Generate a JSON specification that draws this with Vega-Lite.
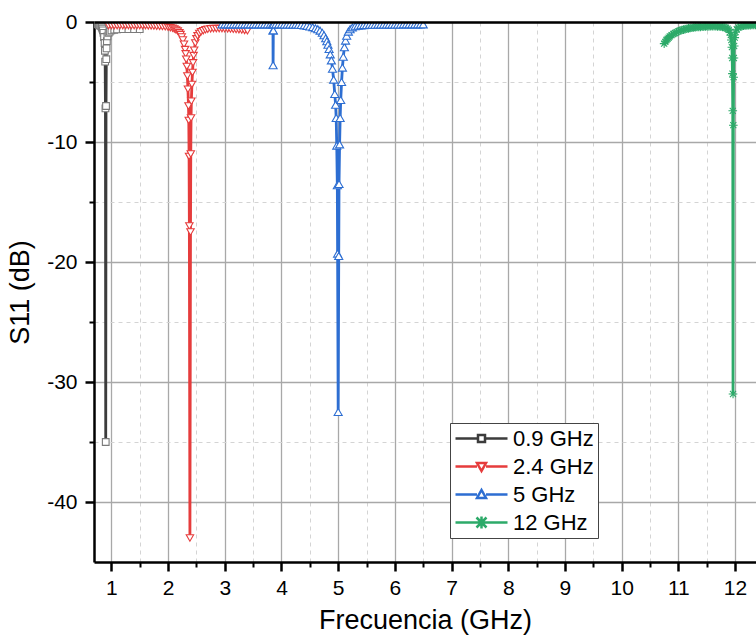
{
  "$schema": "https://vega.github.io/schema/vega-lite/v6.json",
  "width": 662,
  "height": 540,
  "autosize": {"type": "none"},
  "padding": {"left": 94, "top": 22, "right": 0, "bottom": 74},
  "background": "white",
  "config": {"view": {"stroke": null}, "font": "Liberation Sans"},
  "datasets": {
    "s11": [
      {"serie": "0.9 GHz", "freq": 0.76, "s11": -0.2},
      {"serie": "0.9 GHz", "freq": 0.78, "s11": -0.25},
      {"serie": "0.9 GHz", "freq": 0.80, "s11": -0.3},
      {"serie": "0.9 GHz", "freq": 0.82, "s11": -0.35},
      {"serie": "0.9 GHz", "freq": 0.83, "s11": -0.45},
      {"serie": "0.9 GHz", "freq": 0.84, "s11": -0.55},
      {"serie": "0.9 GHz", "freq": 0.85, "s11": -0.7},
      {"serie": "0.9 GHz", "freq": 0.86, "s11": -0.9},
      {"serie": "0.9 GHz", "freq": 0.87, "s11": -1.25},
      {"serie": "0.9 GHz", "freq": 0.88, "s11": -1.75},
      {"serie": "0.9 GHz", "freq": 0.885, "s11": -2.4},
      {"serie": "0.9 GHz", "freq": 0.89, "s11": -3.3},
      {"serie": "0.9 GHz", "freq": 0.895, "s11": -7.2},
      {"serie": "0.9 GHz", "freq": 0.9, "s11": -35},
      {"serie": "0.9 GHz", "freq": 0.905, "s11": -7.0},
      {"serie": "0.9 GHz", "freq": 0.91, "s11": -3.1},
      {"serie": "0.9 GHz", "freq": 0.915, "s11": -2.2},
      {"serie": "0.9 GHz", "freq": 0.92, "s11": -1.6},
      {"serie": "0.9 GHz", "freq": 0.93, "s11": -1.2},
      {"serie": "0.9 GHz", "freq": 0.95, "s11": -0.9},
      {"serie": "0.9 GHz", "freq": 0.97, "s11": -0.8},
      {"serie": "0.9 GHz", "freq": 1.0, "s11": -0.7},
      {"serie": "0.9 GHz", "freq": 1.05, "s11": -0.65},
      {"serie": "0.9 GHz", "freq": 1.1, "s11": -0.62},
      {"serie": "0.9 GHz", "freq": 1.2, "s11": -0.6},
      {"serie": "0.9 GHz", "freq": 1.3, "s11": -0.6},
      {"serie": "0.9 GHz", "freq": 1.4, "s11": -0.6},
      {"serie": "0.9 GHz", "freq": 1.5, "s11": -0.6},

      {"serie": "2.4 GHz", "freq": 0.95, "s11": -0.3},
      {"serie": "2.4 GHz", "freq": 1.0, "s11": -0.3},
      {"serie": "2.4 GHz", "freq": 1.05, "s11": -0.3},
      {"serie": "2.4 GHz", "freq": 1.1, "s11": -0.3},
      {"serie": "2.4 GHz", "freq": 1.15, "s11": -0.3},
      {"serie": "2.4 GHz", "freq": 1.2, "s11": -0.3},
      {"serie": "2.4 GHz", "freq": 1.25, "s11": -0.3},
      {"serie": "2.4 GHz", "freq": 1.3, "s11": -0.3},
      {"serie": "2.4 GHz", "freq": 1.35, "s11": -0.3},
      {"serie": "2.4 GHz", "freq": 1.4, "s11": -0.3},
      {"serie": "2.4 GHz", "freq": 1.45, "s11": -0.3},
      {"serie": "2.4 GHz", "freq": 1.5, "s11": -0.3},
      {"serie": "2.4 GHz", "freq": 1.55, "s11": -0.3},
      {"serie": "2.4 GHz", "freq": 1.6, "s11": -0.3},
      {"serie": "2.4 GHz", "freq": 1.65, "s11": -0.32},
      {"serie": "2.4 GHz", "freq": 1.7, "s11": -0.32},
      {"serie": "2.4 GHz", "freq": 1.75, "s11": -0.33},
      {"serie": "2.4 GHz", "freq": 1.8, "s11": -0.35},
      {"serie": "2.4 GHz", "freq": 1.85, "s11": -0.36},
      {"serie": "2.4 GHz", "freq": 1.9, "s11": -0.38},
      {"serie": "2.4 GHz", "freq": 1.95, "s11": -0.4},
      {"serie": "2.4 GHz", "freq": 2.0, "s11": -0.43},
      {"serie": "2.4 GHz", "freq": 2.04, "s11": -0.47},
      {"serie": "2.4 GHz", "freq": 2.08, "s11": -0.52},
      {"serie": "2.4 GHz", "freq": 2.11, "s11": -0.58},
      {"serie": "2.4 GHz", "freq": 2.14, "s11": -0.66},
      {"serie": "2.4 GHz", "freq": 2.17, "s11": -0.76},
      {"serie": "2.4 GHz", "freq": 2.2, "s11": -0.9},
      {"serie": "2.4 GHz", "freq": 2.22, "s11": -1.05},
      {"serie": "2.4 GHz", "freq": 2.24, "s11": -1.25},
      {"serie": "2.4 GHz", "freq": 2.26, "s11": -1.5},
      {"serie": "2.4 GHz", "freq": 2.28, "s11": -1.85},
      {"serie": "2.4 GHz", "freq": 2.3, "s11": -2.3},
      {"serie": "2.4 GHz", "freq": 2.31, "s11": -2.65},
      {"serie": "2.4 GHz", "freq": 2.32, "s11": -3.1},
      {"serie": "2.4 GHz", "freq": 2.33, "s11": -3.7},
      {"serie": "2.4 GHz", "freq": 2.34, "s11": -4.5},
      {"serie": "2.4 GHz", "freq": 2.35, "s11": -5.6},
      {"serie": "2.4 GHz", "freq": 2.36, "s11": -7.0},
      {"serie": "2.4 GHz", "freq": 2.365, "s11": -8.2},
      {"serie": "2.4 GHz", "freq": 2.37, "s11": -11.2},
      {"serie": "2.4 GHz", "freq": 2.375, "s11": -17},
      {"serie": "2.4 GHz", "freq": 2.385, "s11": -43},
      {"serie": "2.4 GHz", "freq": 2.395, "s11": -17.5},
      {"serie": "2.4 GHz", "freq": 2.4, "s11": -11},
      {"serie": "2.4 GHz", "freq": 2.405, "s11": -8},
      {"serie": "2.4 GHz", "freq": 2.41, "s11": -6.6},
      {"serie": "2.4 GHz", "freq": 2.42, "s11": -5.2},
      {"serie": "2.4 GHz", "freq": 2.43, "s11": -4.2},
      {"serie": "2.4 GHz", "freq": 2.44, "s11": -3.4},
      {"serie": "2.4 GHz", "freq": 2.45, "s11": -2.8},
      {"serie": "2.4 GHz", "freq": 2.46, "s11": -2.35},
      {"serie": "2.4 GHz", "freq": 2.48, "s11": -1.75},
      {"serie": "2.4 GHz", "freq": 2.5, "s11": -1.4},
      {"serie": "2.4 GHz", "freq": 2.52, "s11": -1.15},
      {"serie": "2.4 GHz", "freq": 2.55, "s11": -0.95},
      {"serie": "2.4 GHz", "freq": 2.58, "s11": -0.82},
      {"serie": "2.4 GHz", "freq": 2.62, "s11": -0.72},
      {"serie": "2.4 GHz", "freq": 2.66, "s11": -0.65},
      {"serie": "2.4 GHz", "freq": 2.7, "s11": -0.6},
      {"serie": "2.4 GHz", "freq": 2.75, "s11": -0.57},
      {"serie": "2.4 GHz", "freq": 2.8, "s11": -0.55},
      {"serie": "2.4 GHz", "freq": 2.85, "s11": -0.55},
      {"serie": "2.4 GHz", "freq": 2.9, "s11": -0.55},
      {"serie": "2.4 GHz", "freq": 2.95, "s11": -0.55},
      {"serie": "2.4 GHz", "freq": 3.0, "s11": -0.56},
      {"serie": "2.4 GHz", "freq": 3.05, "s11": -0.57},
      {"serie": "2.4 GHz", "freq": 3.1, "s11": -0.58},
      {"serie": "2.4 GHz", "freq": 3.15, "s11": -0.6},
      {"serie": "2.4 GHz", "freq": 3.2, "s11": -0.62},
      {"serie": "2.4 GHz", "freq": 3.25, "s11": -0.64},
      {"serie": "2.4 GHz", "freq": 3.3, "s11": -0.67},
      {"serie": "2.4 GHz", "freq": 3.35, "s11": -0.7},
      {"serie": "2.4 GHz", "freq": 3.4, "s11": -0.73},

      {"serie": "5 GHz", "freq": 2.95, "s11": -0.2},
      {"serie": "5 GHz", "freq": 3.0, "s11": -0.2},
      {"serie": "5 GHz", "freq": 3.05, "s11": -0.2},
      {"serie": "5 GHz", "freq": 3.1, "s11": -0.2},
      {"serie": "5 GHz", "freq": 3.15, "s11": -0.2},
      {"serie": "5 GHz", "freq": 3.2, "s11": -0.2},
      {"serie": "5 GHz", "freq": 3.25, "s11": -0.2},
      {"serie": "5 GHz", "freq": 3.3, "s11": -0.2},
      {"serie": "5 GHz", "freq": 3.35, "s11": -0.2},
      {"serie": "5 GHz", "freq": 3.4, "s11": -0.2},
      {"serie": "5 GHz", "freq": 3.45, "s11": -0.2},
      {"serie": "5 GHz", "freq": 3.5, "s11": -0.2},
      {"serie": "5 GHz", "freq": 3.55, "s11": -0.2},
      {"serie": "5 GHz", "freq": 3.6, "s11": -0.2},
      {"serie": "5 GHz", "freq": 3.65, "s11": -0.2},
      {"serie": "5 GHz", "freq": 3.7, "s11": -0.2},
      {"serie": "5 GHz", "freq": 3.75, "s11": -0.2},
      {"serie": "5 GHz", "freq": 3.8, "s11": -0.2},
      {"serie": "5 GHz", "freq": 3.84, "s11": -0.2},
      {"serie": "5 GHz", "freq": 3.85, "s11": -0.7},
      {"serie": "5 GHz", "freq": 3.852, "s11": -3.6},
      {"serie": "5 GHz", "freq": 3.856, "s11": -0.7},
      {"serie": "5 GHz", "freq": 3.86, "s11": -0.2},
      {"serie": "5 GHz", "freq": 3.9, "s11": -0.2},
      {"serie": "5 GHz", "freq": 3.95, "s11": -0.2},
      {"serie": "5 GHz", "freq": 4.0, "s11": -0.2},
      {"serie": "5 GHz", "freq": 4.05, "s11": -0.21},
      {"serie": "5 GHz", "freq": 4.1, "s11": -0.21},
      {"serie": "5 GHz", "freq": 4.15, "s11": -0.21},
      {"serie": "5 GHz", "freq": 4.2, "s11": -0.22},
      {"serie": "5 GHz", "freq": 4.25, "s11": -0.22},
      {"serie": "5 GHz", "freq": 4.3, "s11": -0.23},
      {"serie": "5 GHz", "freq": 4.35, "s11": -0.25},
      {"serie": "5 GHz", "freq": 4.4, "s11": -0.28},
      {"serie": "5 GHz", "freq": 4.45, "s11": -0.32},
      {"serie": "5 GHz", "freq": 4.5, "s11": -0.37},
      {"serie": "5 GHz", "freq": 4.55, "s11": -0.43},
      {"serie": "5 GHz", "freq": 4.6, "s11": -0.52},
      {"serie": "5 GHz", "freq": 4.64, "s11": -0.6},
      {"serie": "5 GHz", "freq": 4.68, "s11": -0.72},
      {"serie": "5 GHz", "freq": 4.72, "s11": -0.9},
      {"serie": "5 GHz", "freq": 4.75, "s11": -1.1},
      {"serie": "5 GHz", "freq": 4.78, "s11": -1.35},
      {"serie": "5 GHz", "freq": 4.8, "s11": -1.6},
      {"serie": "5 GHz", "freq": 4.82, "s11": -1.9},
      {"serie": "5 GHz", "freq": 4.84, "s11": -2.25},
      {"serie": "5 GHz", "freq": 4.86, "s11": -2.7},
      {"serie": "5 GHz", "freq": 4.88, "s11": -3.2},
      {"serie": "5 GHz", "freq": 4.9, "s11": -3.9},
      {"serie": "5 GHz", "freq": 4.92, "s11": -4.8},
      {"serie": "5 GHz", "freq": 4.94, "s11": -6.0},
      {"serie": "5 GHz", "freq": 4.955, "s11": -6.9},
      {"serie": "5 GHz", "freq": 4.965, "s11": -8.0},
      {"serie": "5 GHz", "freq": 4.975, "s11": -10.3},
      {"serie": "5 GHz", "freq": 4.985, "s11": -13.6},
      {"serie": "5 GHz", "freq": 4.99, "s11": -19.3},
      {"serie": "5 GHz", "freq": 5.0, "s11": -32.5},
      {"serie": "5 GHz", "freq": 5.01, "s11": -19.5},
      {"serie": "5 GHz", "freq": 5.015, "s11": -13.5},
      {"serie": "5 GHz", "freq": 5.025, "s11": -10.2},
      {"serie": "5 GHz", "freq": 5.035, "s11": -8.0},
      {"serie": "5 GHz", "freq": 5.045, "s11": -6.5},
      {"serie": "5 GHz", "freq": 5.06, "s11": -5.0},
      {"serie": "5 GHz", "freq": 5.075, "s11": -3.8},
      {"serie": "5 GHz", "freq": 5.09, "s11": -2.9},
      {"serie": "5 GHz", "freq": 5.11, "s11": -2.1},
      {"serie": "5 GHz", "freq": 5.13, "s11": -1.55},
      {"serie": "5 GHz", "freq": 5.15, "s11": -1.15},
      {"serie": "5 GHz", "freq": 5.18, "s11": -0.8},
      {"serie": "5 GHz", "freq": 5.21, "s11": -0.6},
      {"serie": "5 GHz", "freq": 5.25, "s11": -0.45},
      {"serie": "5 GHz", "freq": 5.3, "s11": -0.36},
      {"serie": "5 GHz", "freq": 5.35, "s11": -0.31},
      {"serie": "5 GHz", "freq": 5.4, "s11": -0.28},
      {"serie": "5 GHz", "freq": 5.45, "s11": -0.26},
      {"serie": "5 GHz", "freq": 5.5, "s11": -0.25},
      {"serie": "5 GHz", "freq": 5.55, "s11": -0.24},
      {"serie": "5 GHz", "freq": 5.6, "s11": -0.23},
      {"serie": "5 GHz", "freq": 5.65, "s11": -0.23},
      {"serie": "5 GHz", "freq": 5.7, "s11": -0.22},
      {"serie": "5 GHz", "freq": 5.75, "s11": -0.22},
      {"serie": "5 GHz", "freq": 5.8, "s11": -0.22},
      {"serie": "5 GHz", "freq": 5.85, "s11": -0.22},
      {"serie": "5 GHz", "freq": 5.9, "s11": -0.21},
      {"serie": "5 GHz", "freq": 5.95, "s11": -0.21},
      {"serie": "5 GHz", "freq": 6.0, "s11": -0.21},
      {"serie": "5 GHz", "freq": 6.05, "s11": -0.21},
      {"serie": "5 GHz", "freq": 6.1, "s11": -0.21},
      {"serie": "5 GHz", "freq": 6.15, "s11": -0.2},
      {"serie": "5 GHz", "freq": 6.2, "s11": -0.2},
      {"serie": "5 GHz", "freq": 6.25, "s11": -0.2},
      {"serie": "5 GHz", "freq": 6.3, "s11": -0.2},
      {"serie": "5 GHz", "freq": 6.35, "s11": -0.2},
      {"serie": "5 GHz", "freq": 6.4, "s11": -0.2},
      {"serie": "5 GHz", "freq": 6.45, "s11": -0.2},
      {"serie": "5 GHz", "freq": 6.5, "s11": -0.2},

      {"serie": "12 GHz", "freq": 10.75, "s11": -1.8},
      {"serie": "12 GHz", "freq": 10.77, "s11": -1.65},
      {"serie": "12 GHz", "freq": 10.79, "s11": -1.5},
      {"serie": "12 GHz", "freq": 10.81, "s11": -1.4},
      {"serie": "12 GHz", "freq": 10.83, "s11": -1.3},
      {"serie": "12 GHz", "freq": 10.85, "s11": -1.2},
      {"serie": "12 GHz", "freq": 10.88, "s11": -1.1},
      {"serie": "12 GHz", "freq": 10.91, "s11": -1.0},
      {"serie": "12 GHz", "freq": 10.94, "s11": -0.92},
      {"serie": "12 GHz", "freq": 10.97, "s11": -0.85},
      {"serie": "12 GHz", "freq": 11.0, "s11": -0.78},
      {"serie": "12 GHz", "freq": 11.03, "s11": -0.72},
      {"serie": "12 GHz", "freq": 11.06, "s11": -0.67},
      {"serie": "12 GHz", "freq": 11.09, "s11": -0.63},
      {"serie": "12 GHz", "freq": 11.12, "s11": -0.59},
      {"serie": "12 GHz", "freq": 11.15, "s11": -0.56},
      {"serie": "12 GHz", "freq": 11.18, "s11": -0.53},
      {"serie": "12 GHz", "freq": 11.21, "s11": -0.5},
      {"serie": "12 GHz", "freq": 11.24, "s11": -0.48},
      {"serie": "12 GHz", "freq": 11.27, "s11": -0.46},
      {"serie": "12 GHz", "freq": 11.3, "s11": -0.44},
      {"serie": "12 GHz", "freq": 11.33, "s11": -0.42},
      {"serie": "12 GHz", "freq": 11.36, "s11": -0.41},
      {"serie": "12 GHz", "freq": 11.39, "s11": -0.4},
      {"serie": "12 GHz", "freq": 11.42, "s11": -0.39},
      {"serie": "12 GHz", "freq": 11.45, "s11": -0.38},
      {"serie": "12 GHz", "freq": 11.48, "s11": -0.37},
      {"serie": "12 GHz", "freq": 11.51, "s11": -0.36},
      {"serie": "12 GHz", "freq": 11.54, "s11": -0.36},
      {"serie": "12 GHz", "freq": 11.57, "s11": -0.35},
      {"serie": "12 GHz", "freq": 11.6, "s11": -0.35},
      {"serie": "12 GHz", "freq": 11.63, "s11": -0.35},
      {"serie": "12 GHz", "freq": 11.66, "s11": -0.35},
      {"serie": "12 GHz", "freq": 11.69, "s11": -0.36},
      {"serie": "12 GHz", "freq": 11.72, "s11": -0.37},
      {"serie": "12 GHz", "freq": 11.75, "s11": -0.38},
      {"serie": "12 GHz", "freq": 11.78, "s11": -0.4},
      {"serie": "12 GHz", "freq": 11.81, "s11": -0.43},
      {"serie": "12 GHz", "freq": 11.84, "s11": -0.48},
      {"serie": "12 GHz", "freq": 11.87, "s11": -0.56},
      {"serie": "12 GHz", "freq": 11.89, "s11": -0.66},
      {"serie": "12 GHz", "freq": 11.91, "s11": -0.85},
      {"serie": "12 GHz", "freq": 11.925, "s11": -1.1},
      {"serie": "12 GHz", "freq": 11.935, "s11": -1.5},
      {"serie": "12 GHz", "freq": 11.945, "s11": -2.1},
      {"serie": "12 GHz", "freq": 11.95, "s11": -3.0},
      {"serie": "12 GHz", "freq": 11.955, "s11": -4.3},
      {"serie": "12 GHz", "freq": 11.96, "s11": -7.4},
      {"serie": "12 GHz", "freq": 11.965, "s11": -31},
      {"serie": "12 GHz", "freq": 11.97, "s11": -8.6},
      {"serie": "12 GHz", "freq": 11.975, "s11": -4.6},
      {"serie": "12 GHz", "freq": 11.98, "s11": -3.0},
      {"serie": "12 GHz", "freq": 11.985, "s11": -2.0},
      {"serie": "12 GHz", "freq": 11.995, "s11": -1.3},
      {"serie": "12 GHz", "freq": 12.01, "s11": -0.85},
      {"serie": "12 GHz", "freq": 12.03, "s11": -0.6},
      {"serie": "12 GHz", "freq": 12.06, "s11": -0.45},
      {"serie": "12 GHz", "freq": 12.09, "s11": -0.38},
      {"serie": "12 GHz", "freq": 12.12, "s11": -0.34},
      {"serie": "12 GHz", "freq": 12.15, "s11": -0.31},
      {"serie": "12 GHz", "freq": 12.18, "s11": -0.29},
      {"serie": "12 GHz", "freq": 12.21, "s11": -0.28},
      {"serie": "12 GHz", "freq": 12.24, "s11": -0.27},
      {"serie": "12 GHz", "freq": 12.27, "s11": -0.26},
      {"serie": "12 GHz", "freq": 12.3, "s11": -0.25},
      {"serie": "12 GHz", "freq": 12.33, "s11": -0.25},
      {"serie": "12 GHz", "freq": 12.36, "s11": -0.25}
    ]
  },
  "data": {"name": "s11"},
  "resolve": {
    "scale": {"color": "independent", "shape": "independent", "size": "independent", "strokeWidth": "independent"},
    "axis": {"x": "independent", "y": "independent"}
  },
  "layer": [
    {
      "mark": {"type": "line", "strokeWidth": 2.8, "clip": true},
      "encoding": {
        "x": {
          "field": "freq", "type": "quantitative",
          "scale": {"domain": [0.693, 12.37], "nice": false, "zero": false},
          "axis": {
            "orient": "bottom", "values": [1, 2, 3, 4, 5, 6, 7, 8, 9, 10, 11, 12],
            "title": "Frecuencia (GHz)", "titleFontSize": 27, "titleFontWeight": "normal", "titleColor": "black",
            "titlePadding": 9, "labelFontSize": 21, "labelColor": "black", "labelPadding": 6,
            "labelFlush": false, "labelOverlap": false,
            "tickSize": 9, "tickWidth": 2.5, "tickColor": "black",
            "domain": true, "domainColor": "black", "domainWidth": 2.5,
            "grid": true, "gridColor": "#a8a8a8", "gridWidth": 1.3, "zindex": 0
          }
        },
        "y": {
          "field": "s11", "type": "quantitative",
          "scale": {"domain": [-45, 0], "nice": false},
          "axis": {
            "orient": "left", "values": [-40, -30, -20, -10, 0],
            "labelExpr": "datum.value == 0 ? '0' : '-' + abs(datum.value)",
            "title": "S11 (dB)", "titleFontSize": 27, "titleFontWeight": "normal", "titleColor": "black",
            "titlePadding": 12, "labelFontSize": 21, "labelColor": "black", "labelPadding": 8,
            "labelFlush": false, "labelOverlap": false,
            "tickSize": 9, "tickWidth": 2.5, "tickColor": "black",
            "domain": true, "domainColor": "black", "domainWidth": 2.5,
            "grid": true, "gridColor": "#a8a8a8", "gridWidth": 1.3, "zindex": 0
          }
        },
        "color": {
          "field": "serie", "type": "nominal",
          "scale": {"domain": ["0.9 GHz", "2.4 GHz", "5 GHz", "12 GHz"], "range": ["#3c3c3c", "#E63C3C", "#2D6ED2", "#2DAA69"]},
          "legend": null
        }
      }
    },
    {
      "mark": {"type": "point", "filled": false, "fill": "white", "clip": true, "opacity": 1},
      "encoding": {
        "x": {"field": "freq", "type": "quantitative", "axis": null},
        "y": {"field": "s11", "type": "quantitative", "axis": null},
        "color": {
          "field": "serie", "type": "nominal",
          "scale": {"domain": ["0.9 GHz", "2.4 GHz", "5 GHz", "12 GHz"], "range": ["#7a7a7a", "#E63C3C", "#2D6ED2", "#2DAA69"]},
          "legend": null
        },
        "shape": {
          "field": "serie", "type": "nominal",
          "scale": {"domain": ["0.9 GHz", "2.4 GHz", "5 GHz", "12 GHz"], "range": ["square", "triangle-down", "triangle-up", "M-1,0H1M0,-1V1M-0.7,-0.7L0.7,0.7M-0.7,0.7L0.7,-0.7"]},
          "legend": null
        },
        "size": {
          "field": "serie", "type": "nominal",
          "scale": {"domain": ["0.9 GHz", "2.4 GHz", "5 GHz", "12 GHz"], "range": [45, 75, 75, 240]},
          "legend": null
        },
        "strokeWidth": {
          "field": "serie", "type": "nominal",
          "scale": {"domain": ["0.9 GHz", "2.4 GHz", "5 GHz", "12 GHz"], "range": [1.1, 1.1, 1.1, 2]},
          "legend": null
        }
      }
    },
    {
      "transform": [{"filter": "false"}],
      "mark": {"type": "point", "filled": false, "fill": "white", "strokeWidth": 2.5, "opacity": 1},
      "encoding": {
        "x": {
          "field": "freq", "type": "quantitative",
          "axis": {
            "orient": "bottom", "values": [1.5, 2.5, 3.5, 4.5, 5.5, 6.5, 7.5, 8.5, 9.5, 10.5, 11.5],
            "labels": false, "title": null, "domain": false,
            "tickSize": 5, "tickWidth": 2, "tickColor": "black",
            "grid": true, "gridColor": "#d4d4d4", "gridWidth": 1, "gridDash": [4, 4], "zindex": 0
          }
        },
        "y": {
          "field": "s11", "type": "quantitative",
          "axis": {
            "orient": "left", "values": [-35, -25, -15, -5],
            "labels": false, "title": null, "domain": false,
            "tickSize": 5, "tickWidth": 2, "tickColor": "black",
            "grid": true, "gridColor": "#d4d4d4", "gridWidth": 1, "gridDash": [4, 4], "zindex": 0
          }
        },
        "color": {
          "field": "serie", "type": "nominal",
          "scale": {"domain": ["0.9 GHz", "2.4 GHz", "5 GHz", "12 GHz"], "range": ["#3c3c3c", "#E63C3C", "#2D6ED2", "#2DAA69"]},
          "legend": {
            "title": null, "orient": "none", "legendX": 356, "legendY": 401,
            "symbolSize": 400, "symbolStrokeWidth": 2.5, "symbolFillColor": "white", "symbolOpacity": 1,
            "labelFontSize": 22, "labelColor": "black", "labelOffset": 36,
            "strokeColor": "#444", "fillColor": "white", "padding": 4, "rowPadding": 5
          }
        },
        "shape": {
          "field": "serie", "type": "nominal",
          "scale": {
            "domain": ["0.9 GHz", "2.4 GHz", "5 GHz", "12 GHz"],
            "range": [
              "M-1,0H1.25M1.95,0H4.2M1.25,-0.35H1.95V0.35H1.25Z",
              "M-1,0H1.15M2.05,0H4.2M1.15,-0.35L2.05,-0.35L1.6,0.45Z",
              "M-1,0H1.15M2.05,0H4.2M1.15,0.35L2.05,0.35L1.6,-0.45Z",
              "M-1,0H4.2M1.6,-0.6V0.6M1.1,-0.5L2.1,0.5M1.1,0.5L2.1,-0.5"
            ]
          },
          "legend": {
            "title": null, "orient": "none", "legendX": 356, "legendY": 401,
            "symbolSize": 400, "symbolStrokeWidth": 2.5, "symbolFillColor": "white", "symbolOpacity": 1,
            "labelFontSize": 22, "labelColor": "black", "labelOffset": 36,
            "strokeColor": "#444", "fillColor": "white", "padding": 4, "rowPadding": 5
          }
        }
      }
    },
    {
      "transform": [{"filter": "false"}],
      "mark": {"type": "rule"},
      "encoding": {
        "x": {
          "field": "freq", "type": "quantitative",
          "axis": {"orient": "top", "labels": false, "ticks": false, "title": null, "grid": false,
                   "domain": true, "domainColor": "black", "domainWidth": 2.5, "zindex": 1}
        },
        "y": {"field": "s11", "type": "quantitative", "axis": null}
      }
    }
  ]
}
